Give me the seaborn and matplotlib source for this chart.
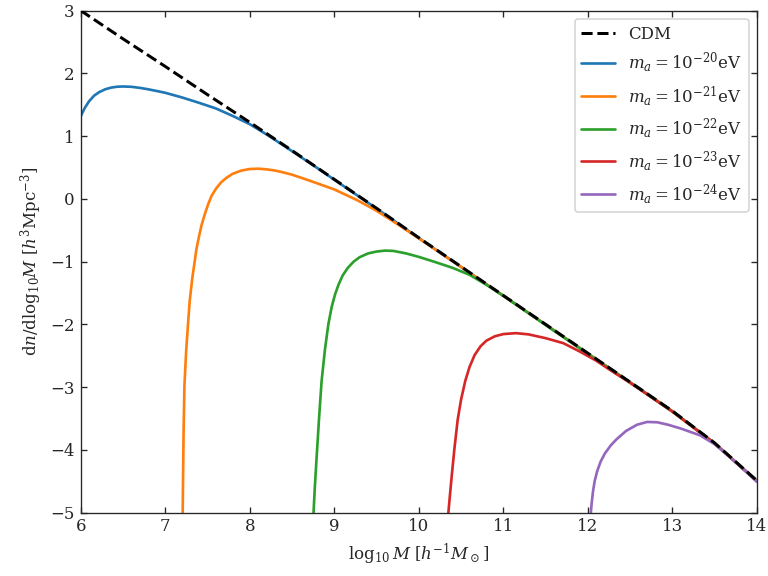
import numpy as np
import pandas as pd
import matplotlib
matplotlib.use("Agg")
import matplotlib.pyplot as plt
import seaborn as sns

# CDM halo mass function
cdm_x = [6.0, 6.5, 7.0, 7.5, 8.0, 8.5, 9.0, 9.5, 10.0, 10.5, 11.0, 11.5, 12.0, 12.5, 13.0, 13.5, 14.0]
cdm_y = [3.00, 2.55, 2.11, 1.66, 1.22, 0.77, 0.31, -0.15, -0.62, -1.08, -1.54, -2.00, -2.46, -2.92, -3.38, -3.89, -4.49]

# m_a = 1e-20 eV
m20_x = [6.0, 6.02, 6.05, 6.1, 6.16, 6.22, 6.29, 6.36, 6.43, 6.5, 6.6, 6.7, 6.8, 6.9, 7.0, 7.2, 7.4, 7.6, 7.8, 8.0,
         8.2, 8.4, 8.6, 8.8, 9.0, 9.5, 10.0, 10.5, 11.0, 11.5, 12.0, 12.5, 13.0, 13.5, 14.0]
m20_y = [1.31, 1.37, 1.45, 1.555, 1.645, 1.70, 1.745, 1.772, 1.786, 1.79, 1.785, 1.768, 1.745, 1.718, 1.69, 1.615, 1.53, 1.44, 1.32, 1.19,
         1.025, 0.85, 0.67, 0.49, 0.305, -0.155, -0.625, -1.085, -1.545, -2.005, -2.465, -2.925, -3.385, -3.895, -4.495]

# m_a = 1e-21 eV
m21_x = [7.207, 7.212, 7.218, 7.228, 7.248, 7.27, 7.29, 7.32, 7.35, 7.37, 7.40, 7.43, 7.47, 7.51, 7.55, 7.60, 7.66,
         7.72, 7.80, 7.9, 8.0, 8.1, 8.2, 8.3, 8.4, 8.5, 8.6, 8.75, 9.0, 9.27, 9.5, 9.75, 10.0, 10.5, 11.0, 11.5, 12.0,
         12.5, 13.0, 13.5, 14.0]
m21_y = [-5.0, -4.4, -3.7, -2.97, -2.43, -2.0, -1.63, -1.27, -0.99, -0.80, -0.60, -0.42, -0.24, -0.08, 0.05, 0.16, 0.26,
         0.33, 0.40, 0.45, 0.475, 0.48, 0.47, 0.45, 0.42, 0.385, 0.34, 0.27, 0.15, -0.02, -0.19, -0.405, -0.63, -1.085, -1.545, -2.005, -2.465,
         -2.925, -3.385, -3.895, -4.495]

# m_a = 1e-22 eV
m22_x = [8.755, 8.77, 8.79, 8.82, 8.85, 8.89, 8.93, 8.97, 9.01, 9.05, 9.10, 9.16, 9.23, 9.30, 9.40, 9.5, 9.6, 9.7, 9.85,
         10.0, 10.2, 10.4, 10.6, 10.8, 11.0, 11.2, 11.5, 12.0, 12.5, 13.0, 13.5, 14.0]
m22_y = [-5.0, -4.6, -4.15, -3.5, -2.91, -2.4, -2.0, -1.72, -1.52, -1.37, -1.22, -1.10, -1.00, -0.93, -0.87, -0.84, -0.825, -0.83, -0.87,
         -0.925, -1.01, -1.10, -1.21, -1.37, -1.545, -1.73, -2.01, -2.47, -2.93, -3.39, -3.90, -4.50]

# m_a = 1e-23 eV
m23_x = [10.35, 10.37, 10.39, 10.42, 10.46, 10.50, 10.55, 10.60, 10.66, 10.73, 10.80, 10.9, 11.0, 11.15, 11.3, 11.5, 11.71,
         11.9, 12.1, 12.3, 12.5, 13.0, 13.5, 14.0]
m23_y = [-5.0, -4.7, -4.41, -4.0, -3.52, -3.2, -2.90, -2.68, -2.49, -2.35, -2.26, -2.19, -2.155, -2.14, -2.16, -2.22, -2.30,
         -2.43, -2.58, -2.76, -2.93, -3.39, -3.90, -4.50]

# m_a = 1e-24 eV
m24_x = [12.035, 12.045, 12.06, 12.08, 12.11, 12.15, 12.2, 12.27, 12.34, 12.45, 12.58, 12.70, 12.82, 12.95, 13.1, 13.33,
         13.5, 13.65, 13.8, 14.0]
m24_y = [-5.0, -4.85, -4.67, -4.50, -4.34, -4.19, -4.06, -3.93, -3.83, -3.70, -3.60, -3.555, -3.56, -3.60, -3.66, -3.77,
         -3.91, -4.08, -4.26, -4.51]

masses = [20, 21, 22, 23, 24]
curves = [(m20_x, m20_y), (m21_x, m21_y), (m22_x, m22_y), (m23_x, m23_y), (m24_x, m24_y)]

sns.set_style("ticks", {"xtick.direction": "in", "ytick.direction": "in"})
plt.rcParams['font.family'] = ['DejaVu Serif']
plt.rcParams['mathtext.fontset'] = 'dejavuserif'
plt.rcParams['font.size'] = 10

palette = sns.color_palette("tab10")

fig, ax = plt.subplots(figsize=(6.4, 4.8), dpi=120)
fig.subplots_adjust(left=0.105, right=0.9856, bottom=0.110, top=0.9817)

sns.lineplot(x=cdm_x, y=cdm_y, ax=ax, color='k', linestyle='--', linewidth=1.8, label='CDM', zorder=5)
for i, (m, (xs, ys)) in enumerate(zip(masses, curves)):
    sns.lineplot(x=xs, y=ys, ax=ax, color=palette[i], linewidth=1.6,
                 label=r'$m_a=10^{-%d}$eV' % m)

ax.set_xlim(6, 14)
ax.set_ylim(-5, 3)
ax.tick_params(top=True, right=True, direction='in')
ax.set_xlabel(r'$\log_{10}M\ [h^{-1}M_\odot]$')
ax.set_ylabel(r'$\mathrm{d}n/\mathrm{dlog}_{10}M\ [h^3\mathrm{Mpc}^{-3}]$')
ax.legend(loc='upper right')

fig.savefig('out.png', dpi=120)
